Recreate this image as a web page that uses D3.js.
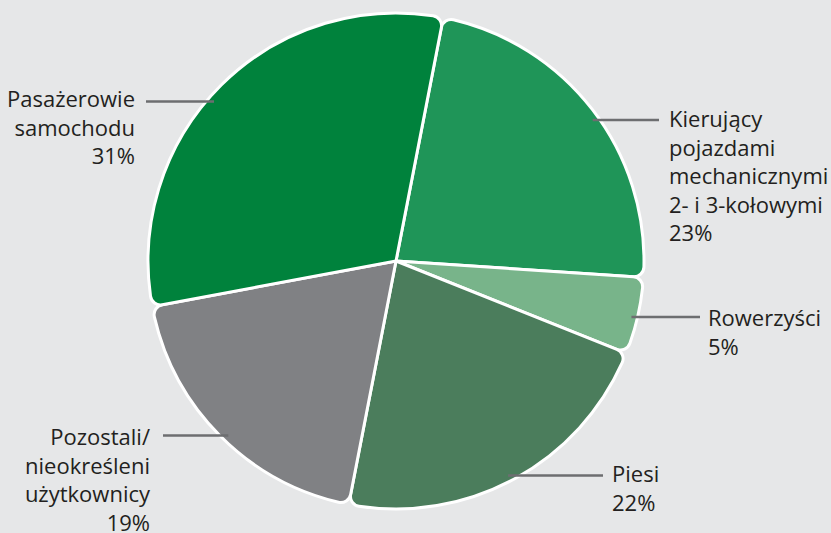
<!DOCTYPE html>
<html>
<head>
<meta charset="utf-8">
<script src="https://cdn.jsdelivr.net/npm/d3@7"></script>
<style>
  html, body { margin: 0; padding: 0; background: #e6e7e8; }
  svg { display: block; }
  text { font-family: "Open Sans", sans-serif; font-size: 22px; fill: #231f20; }
</style>
</head>
<body>
<svg id="chart" width="831" height="533"></svg>
<script>
// Road-user categories, clockwise from the top
const categories = ["Kierujący", "Rowerzyści", "Piesi", "Pozostali", "Pasażerowie"];
const shares = [23, 5, 22, 19, 31];
const labelLines = [
  ["Kierujący", "pojazdami", "mechanicznymi", "2- i 3-kołowymi", "23%"],
  ["Rowerzyści", "5%"],
  ["Piesi", "22%"],
  ["Pozostali/", "nieokreśleni", "użytkownicy", "19%"],
  ["Pasażerowie", "samochodu", "31%"]
];
const colors = ["#1f9558", "#78b48a", "#4b7d5c", "#808184", "#00823c"];

// Label placement: leader line height, which side, text anchor x, first baseline
const labelLayout = [
  { lineY: 120, side: 1, lineEnd: 659, textX: 669, baseline: 127 },
  { lineY: 317, side: 1, lineEnd: 700, textX: 708, baseline: 326 },
  { lineY: 475.5, side: 1, lineEnd: 603, textX: 612, baseline: 482 },
  { lineY: 435.5, side: -1, lineEnd: 163, textX: 150, baseline: 445 },
  { lineY: 101.5, side: -1, lineEnd: 146, textX: 135, baseline: 107 }
];

const svg = d3.select("#chart");
const cx = 396, cy = 261, radius = 248, leaderR = 242, lineGap = 28.6;
const startAngle = 11 * Math.PI / 180;

const pie = d3.pie().sort(null).value(d => d)
  .startAngle(startAngle).endAngle(startAngle + 2 * Math.PI);
const arc = d3.arc().innerRadius(0).outerRadius(radius).cornerRadius(10);

const g = svg.append("g").attr("transform", `translate(${cx},${cy})`);

g.selectAll("path.slice")
  .data(pie(shares))
  .join("path")
  .attr("class", "slice")
  .attr("d", arc)
  .attr("fill", (d, i) => colors[i])
  .attr("stroke", "#ffffff")
  .attr("stroke-width", 3)
  .attr("stroke-linejoin", "round");

// Leader lines: horizontal, starting just inside the slice edge
labelLayout.forEach((L, i) => {
  const dy = L.lineY - cy;
  const x0 = cx + L.side * Math.sqrt(leaderR * leaderR - dy * dy);
  svg.append("line")
    .attr("x1", x0).attr("y1", L.lineY)
    .attr("x2", L.lineEnd).attr("y2", L.lineY)
    .attr("stroke", "#6d6e70")
    .attr("stroke-width", 2.5);

  const t = svg.append("text")
    .attr("text-anchor", L.side > 0 ? "start" : "end");
  labelLines[i].forEach((s, k) => {
    t.append("tspan")
      .attr("x", L.textX)
      .attr("y", L.baseline + k * lineGap)
      .text(s);
  });
});
</script>
</body>
</html>
